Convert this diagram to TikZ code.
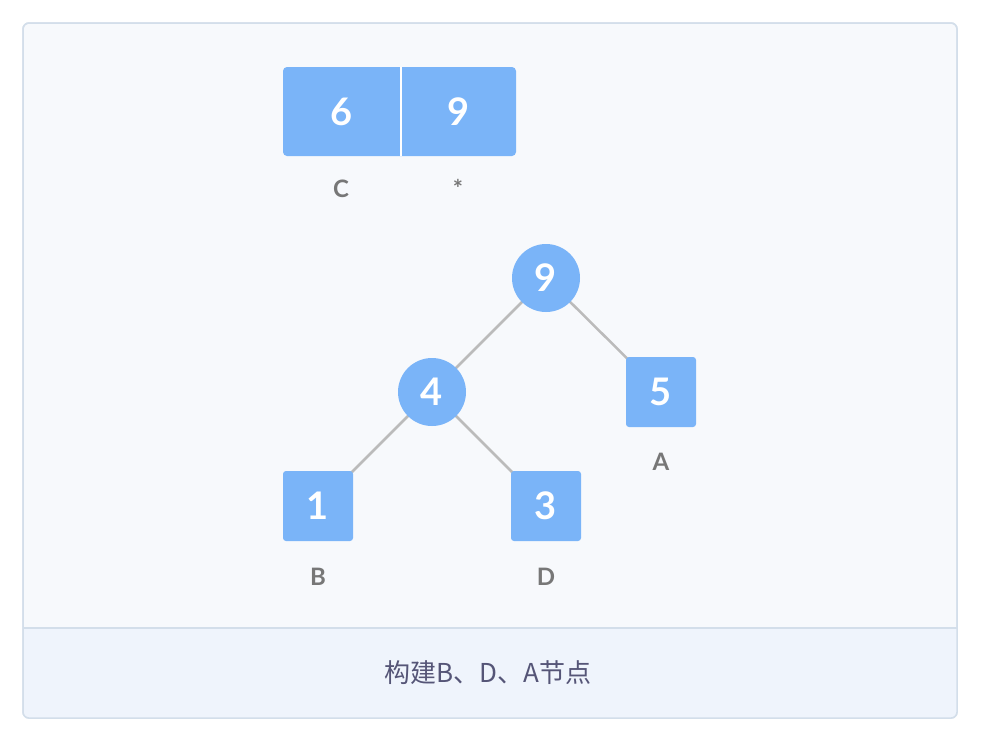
\documentclass[tikz,border=0pt]{standalone}
\usepackage{fontspec}
\setmainfont{Lato}
\newfontfamily\cjk{Noto Sans CJK SC}
\definecolor{nodeblue}{HTML}{7AB4F8}
\definecolor{framec}{HTML}{D3DEEA}
\definecolor{bgc}{HTML}{F7F9FC}
\definecolor{bandc}{HTML}{EFF4FC}
\definecolor{edgec}{HTML}{BBBBBB}
\definecolor{lblc}{HTML}{777777}
\definecolor{capc}{HTML}{555577}
\begin{document}
\begin{tikzpicture}[x=1pt,y=-1pt,
  circ/.style={circle,fill=nodeblue,minimum size=68pt,inner sep=0pt,text=white,font=\fontsize{38}{38}\selectfont\bfseries},
  sq/.style={rectangle,rounded corners=3pt,fill=nodeblue,minimum size=70pt,inner sep=0pt,text=white,font=\fontsize{38}{38}\selectfont\bfseries},
  cell/.style={rectangle,minimum width=117pt,minimum height=89pt,inner sep=0pt,text=white,font=\fontsize{38}{38}\selectfont\bfseries},
  lbl/.style={text=lblc,font=\fontsize{24}{24}\selectfont\bfseries},
  edge/.style={draw=edgec,line width=2.5pt}]
\useasboundingbox (0,0) rectangle (998,748);
\fill[white] (0,0) rectangle (998,748);
\draw[framec,fill=bgc,line width=1.5pt,rounded corners=6pt] (23,23) rectangle (957,718);
\begin{scope}
\clip[rounded corners=6pt] (23,23) rectangle (957,718);
\fill[bandc] (23,628) rectangle (957,718);
\end{scope}
\draw[framec,line width=1.5pt,rounded corners=6pt] (23,23) rectangle (957,718);
\draw[framec,line width=1.5pt] (23,628) -- (957,628);
\node[text=capc,font=\cjk\fontsize{26}{26}\selectfont] (cap) at (488,673) {构建B、D、A节点};
\fill[nodeblue,rounded corners=4pt] (283,67) rectangle (516,156);
\node[cell] (c1) at (341.5,111.5) {6};
\node[cell] (c2) at (458.5,111.5) {9};
\draw[white,line width=1.5pt] (401,67) -- (401,156);
\node[lbl] (lc) at (341,189) {C};
\node[lbl] (ls) at (458,188) {*};
\draw[edge] (546,278) -- (432,392);
\draw[edge] (546,278) -- (661,392);
\draw[edge] (432,392) -- (318,506);
\draw[edge] (432,392) -- (546,506);
\node[circ] (n9) at (546,278) {9};
\node[circ] (n4) at (432,392) {4};
\node[sq] (n5) at (661,392) {5};
\node[sq] (n1) at (318,506) {1};
\node[sq] (n3) at (546,506) {3};
\node[lbl] (la) at (661,462) {A};
\node[lbl] (lb) at (318,577) {B};
\node[lbl] (ld) at (546,577) {D};
\end{tikzpicture}
\end{document}
